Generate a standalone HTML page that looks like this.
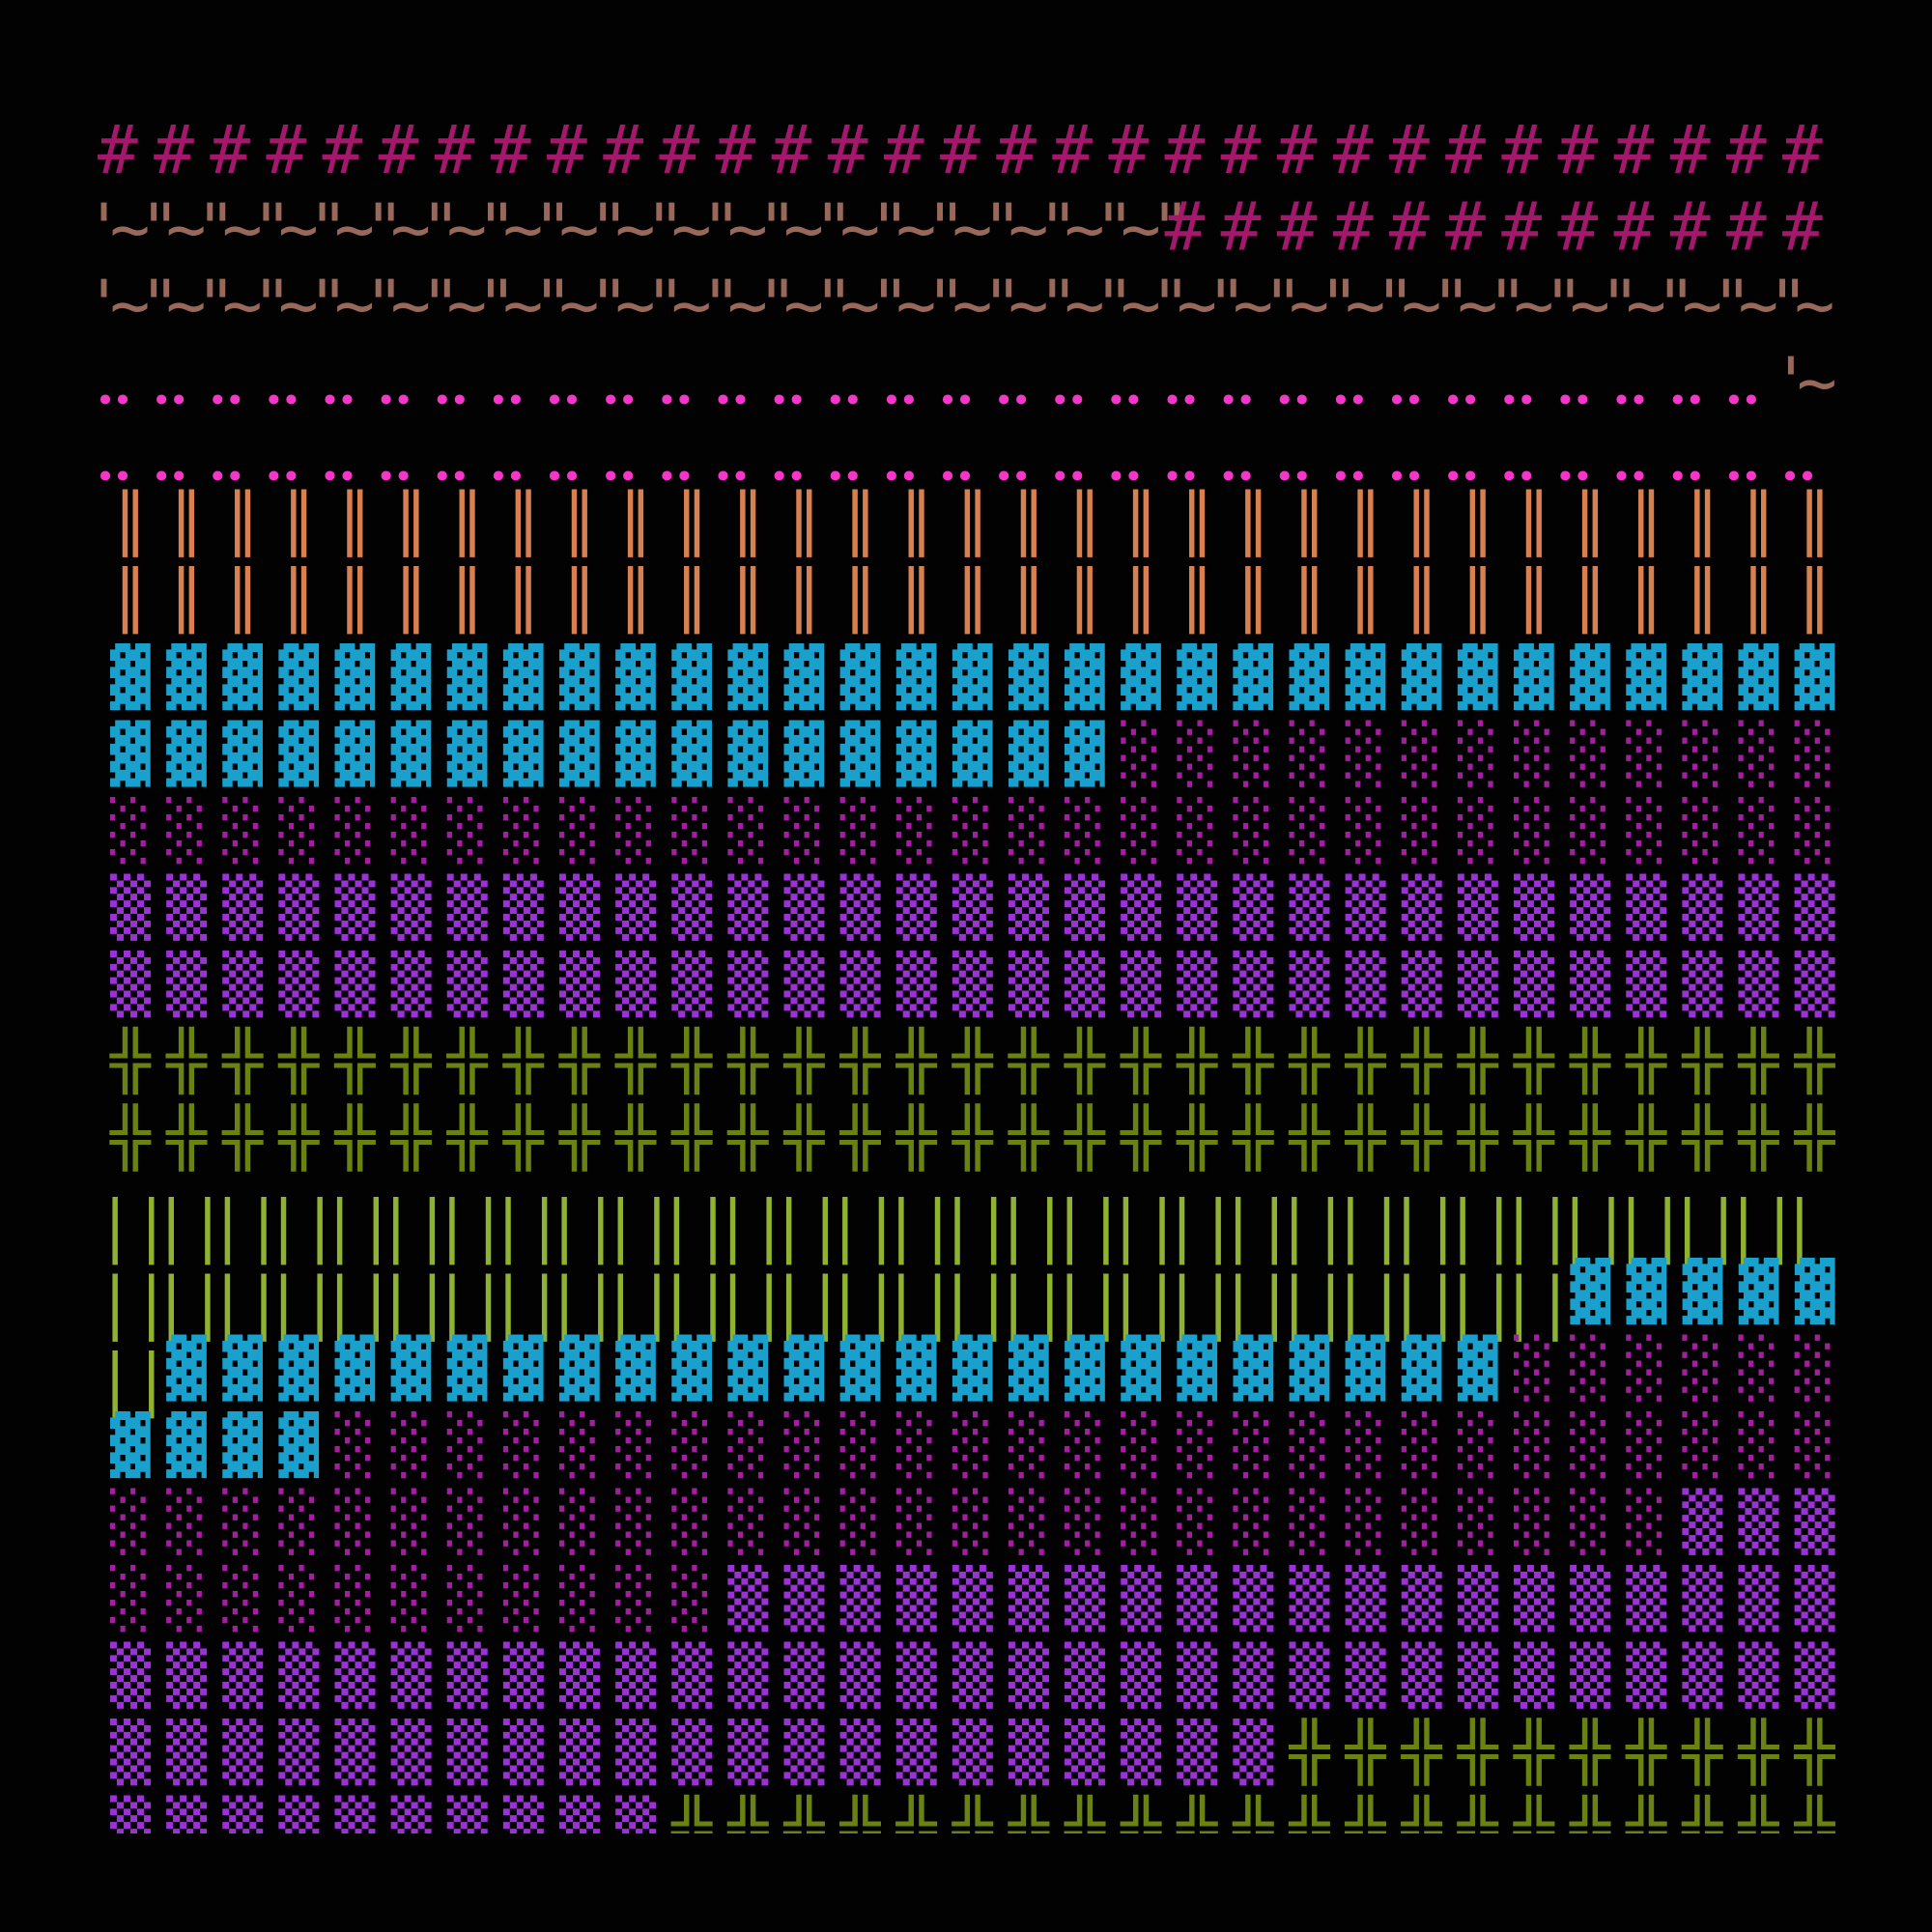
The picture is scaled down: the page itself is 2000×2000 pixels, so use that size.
<!DOCTYPE html>
<html><head><meta charset="utf-8"><style>
html,body{margin:0;padding:0;background:#020202;}
svg{display:block;}
text{font-family:"DejaVu Sans Mono",monospace;font-size:69.5px;letter-spacing:16.29px;}
.h{fill:#a3186b}.b{fill:#98695a}.p{fill:#f536c8;font-size:35px;letter-spacing:37.06px}
.o{fill:#d8804f}.c{fill:#1aa0cd}.m{fill:#a21fa0}.v{fill:#9a32d6}.g{fill:#6a8212}.l{fill:#90b232}
</style></head><body>
<svg width="2000" height="2000" viewBox="0 0 2000 2000" xmlns="http://www.w3.org/2000/svg">
<defs><clipPath id="cp"><rect x="0" y="0" width="2000" height="1898"/></clipPath></defs>
<rect width="2000" height="2000" fill="#020202"/>
<!-- row 0 -->
<text class="h" x="101" y="179">###############################</text>
<!-- row 1 -->
<text class="b" x="86.6" y="260.7">'"""""""""""""""""""</text>
<text class="b" x="113.6" y="260.7">~~~~~~~~~~~~~~~~~~~</text>
<text class="h" x="1205.5" y="258.5">############</text>
<!-- row 2 -->
<text class="b" x="86.6" y="339.7">'""""""""""""""""""""""""""""""</text>
<text class="b" x="113.6" y="339.7">~~~~~~~~~~~~~~~~~~~~~~~~~~~~~~~</text>
<!-- row 3 -->
<text class="p" x="98.5" y="426.6">••••••••••••••••••••••••••••••</text>
<text class="p" x="116.5" y="426.6">••••••••••••••••••••••••••••••</text>
<text class="b" x="1833" y="419.7">'</text>
<text class="b" x="1860" y="419.7">~</text>
<!-- row 4 -->
<text class="p" x="98.5" y="505.6">•••••••••••••••••••••••••••••••</text>
<text class="p" x="116.5" y="505.6">•••••••••••••••••••••••••••••••</text>
<!-- rows 5-6 -->
<g transform="translate(0,562) scale(1,0.853)"><text class="o" x="114" y="0">║║║║║║║║║║║║║║║║║║║║║║║║║║║║║║║</text></g>
<g transform="translate(0,641.5) scale(1,0.853)"><text class="o" x="114" y="0">║║║║║║║║║║║║║║║║║║║║║║║║║║║║║║║</text></g>
<!-- row 7 -->
<g transform="translate(0,721) scale(1,0.853)"><text class="c" x="114" y="0">▓▓▓▓▓▓▓▓▓▓▓▓▓▓▓▓▓▓▓▓▓▓▓▓▓▓▓▓▓▓▓</text></g>
<!-- row 8 -->
<g transform="translate(0,800.5) scale(1,0.853)"><text x="114" y="0"><tspan class="c">▓▓▓▓▓▓▓▓▓▓▓▓▓▓▓▓▓▓</tspan><tspan class="m">░░░░░░░░░░░░░</tspan></text></g>
<!-- row 9 -->
<g transform="translate(0,880) scale(1,0.853)"><text class="m" x="114" y="0">░░░░░░░░░░░░░░░░░░░░░░░░░░░░░░░</text></g>
<!-- rows 10-11 -->
<g transform="translate(0,959.5) scale(1,0.853)"><text class="v" x="114" y="0">▒▒▒▒▒▒▒▒▒▒▒▒▒▒▒▒▒▒▒▒▒▒▒▒▒▒▒▒▒▒▒</text></g>
<g transform="translate(0,1039) scale(1,0.853)"><text class="v" x="114" y="0">▒▒▒▒▒▒▒▒▒▒▒▒▒▒▒▒▒▒▒▒▒▒▒▒▒▒▒▒▒▒▒</text></g>
<!-- rows 12-13 -->
<g transform="translate(0,1118.5) scale(1,0.853)"><text class="g" x="114" y="0">╬╬╬╬╬╬╬╬╬╬╬╬╬╬╬╬╬╬╬╬╬╬╬╬╬╬╬╬╬╬╬</text></g>
<g transform="translate(0,1198) scale(1,0.853)"><text class="g" x="114" y="0">╬╬╬╬╬╬╬╬╬╬╬╬╬╬╬╬╬╬╬╬╬╬╬╬╬╬╬╬╬╬╬</text></g>
<!-- row 14 -->
<g transform="translate(0,1294.5) scale(1,0.853)">
<text class="l" x="98.3" y="0">│││││││││││││││││││││││││││││││</text>
<text class="l" x="135.9" y="0">││││││││││││││││││││││││││││││</text></g>
<!-- row 15 -->
<g transform="translate(0,1374) scale(1,0.853)">
<text class="l" x="98.3" y="0">││││││││││││││││││││││││││</text>
<text class="l" x="135.9" y="0">││││││││││││││││││││││││││</text></g>
<g transform="translate(0,1357) scale(1,0.853)"><text class="c" x="1625.38" y="0">▓▓▓▓▓</text></g>
<!-- row 16 -->
<g transform="translate(0,1453.5) scale(1,0.853)">
<text class="l" x="98.3" y="0">│</text>
<text class="l" x="135.9" y="0">│</text></g>
<g transform="translate(0,1436.5) scale(1,0.853)"><text x="172.13" y="0"><tspan class="c">▓▓▓▓▓▓▓▓▓▓▓▓▓▓▓▓▓▓▓▓▓▓▓▓</tspan><tspan class="m">░░░░░░</tspan></text></g>
<!-- row 17 -->
<g transform="translate(0,1516) scale(1,0.853)"><text x="114" y="0"><tspan class="c">▓▓▓▓</tspan><tspan class="m">░░░░░░░░░░░░░░░░░░░░░░░░░░░</tspan></text></g>
<!-- row 18 -->
<g transform="translate(0,1595.5) scale(1,0.853)"><text x="114" y="0"><tspan class="m">░░░░░░░░░░░░░░░░░░░░░░░░░░░░</tspan><tspan class="v">▒▒▒</tspan></text></g>
<!-- row 19 -->
<g transform="translate(0,1675) scale(1,0.853)"><text x="114" y="0"><tspan class="m">░░░░░░░░░░░</tspan><tspan class="v">▒▒▒▒▒▒▒▒▒▒▒▒▒▒▒▒▒▒▒▒</tspan></text></g>
<!-- row 20 -->
<g transform="translate(0,1754.5) scale(1,0.853)"><text class="v" x="114" y="0">▒▒▒▒▒▒▒▒▒▒▒▒▒▒▒▒▒▒▒▒▒▒▒▒▒▒▒▒▒▒▒</text></g>
<!-- row 21 -->
<g transform="translate(0,1834) scale(1,0.853)"><text x="114" y="0"><tspan class="v">▒▒▒▒▒▒▒▒▒▒▒▒▒▒▒▒▒▒▒▒▒</tspan><tspan class="g">╬╬╬╬╬╬╬╬╬╬</tspan></text></g>
<!-- row 22 (clipped) -->
<g clip-path="url(#cp)">
<g transform="translate(0,1913.5) scale(1,0.853)"><text x="114" y="0"><tspan class="v">▒▒▒▒▒▒▒▒▒▒</tspan><tspan class="g">╬╬╬╬╬╬╬╬╬╬╬╬╬╬╬╬╬╬╬╬╬</tspan></text></g>
</g>
</svg>
</body></html>
